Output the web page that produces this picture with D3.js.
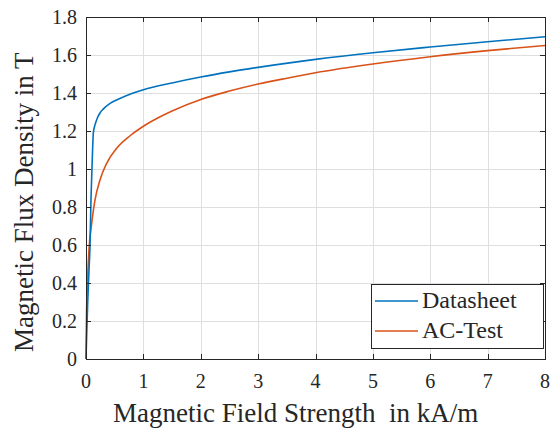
<!DOCTYPE html>
<html>
<head>
<meta charset="utf-8">
<script src="https://cdn.jsdelivr.net/npm/d3@7"></script>
<style>
  html, body { margin: 0; padding: 0; background: #fff; }
  svg { display: block; }
</style>
</head>
<body>
<svg id="chart" width="556" height="430"></svg>
<script>
// B-H curves: field strength H in kA/m, flux density B in T
const datasheetH = [0, 0.012, 0.03, 0.05, 0.07, 0.087, 0.105, 0.128, 0.15, 0.17, 0.2, 0.244, 0.3, 0.42, 0.57, 0.8, 1.0, 1.5, 2, 2.5, 3, 4, 5, 6, 7, 8];
const datasheetB = [0, 0.13, 0.3, 0.45, 0.6, 0.84, 1.01, 1.19, 1.225, 1.245, 1.27, 1.295, 1.315, 1.345, 1.368, 1.397, 1.417, 1.453, 1.484, 1.511, 1.535, 1.577, 1.612, 1.642, 1.670, 1.696];

const acTestH = [0, 0.005, 0.023, 0.052, 0.099, 0.157, 0.244, 0.36, 0.535, 0.768, 1.0, 1.25, 1.5, 2, 2.5, 3, 3.5, 4, 5, 6, 7, 8];
const acTestB = [0, 0.15, 0.38, 0.574, 0.714, 0.837, 0.942, 1.03, 1.109, 1.175, 1.225, 1.268, 1.305, 1.366, 1.41, 1.447, 1.478, 1.507, 1.553, 1.591, 1.623, 1.650];

const xTicks = [0, 1, 2, 3, 4, 5, 6, 7, 8];
const yTicks = [0, 0.2, 0.4, 0.6, 0.8, 1, 1.2, 1.4, 1.6, 1.8];

const seriesNames = ["Datasheet", "AC-Test"];
const seriesColors = ["#0072BD", "#D95319"];

const FONT = "'Liberation Serif', 'Times New Roman', Times, 'DejaVu Serif', serif";
const plot = { left: 86, top: 17, right: 545, bottom: 359 };

const svg = d3.select("#chart");
const x = d3.scaleLinear().domain([0, 8]).range([plot.left, plot.right]);
const y = d3.scaleLinear().domain([0, 1.8]).range([plot.bottom, plot.top]);

// grid
const grid = svg.append("g").attr("stroke", "#dfdfdf").attr("stroke-width", 1);
xTicks.slice(1, -1).forEach(t => {
  grid.append("line").attr("x1", Math.round(x(t)) + 0.5).attr("x2", Math.round(x(t)) + 0.5)
    .attr("y1", plot.top).attr("y2", plot.bottom);
});
yTicks.slice(1, -1).forEach(t => {
  grid.append("line").attr("y1", Math.round(y(t)) + 0.5).attr("y2", Math.round(y(t)) + 0.5)
    .attr("x1", plot.left).attr("x2", plot.right);
});

// curves
const datasheet = datasheetH.map((h, i) => [h, datasheetB[i]]);
const acTest = acTestH.map((h, i) => [h, acTestB[i]]);

const lineSmooth = d3.line().x(d => x(d[0])).y(d => y(d[1])).curve(d3.curveMonotoneX);

svg.append("path").datum(acTest).attr("d", lineSmooth)
  .attr("fill", "none").attr("stroke", seriesColors[1]).attr("stroke-width", 1.6);
svg.append("path").datum(datasheet).attr("d", lineSmooth)
  .attr("fill", "none").attr("stroke", seriesColors[0]).attr("stroke-width", 1.6)
  .attr("stroke-linejoin", "round");

// axes (box with inward ticks on all four sides)
const tickLen = 5;
const axisG = svg.append("g").attr("stroke", "#262626").attr("stroke-width", 1).attr("fill", "none");
axisG.append("rect")
  .attr("x", plot.left + 0.5).attr("y", plot.top + 0.5)
  .attr("width", plot.right - plot.left).attr("height", plot.bottom - plot.top);

xTicks.forEach(t => {
  const px = Math.round(x(t)) + 0.5;
  axisG.append("line").attr("x1", px).attr("x2", px).attr("y1", plot.bottom).attr("y2", plot.bottom - tickLen);
  axisG.append("line").attr("x1", px).attr("x2", px).attr("y1", plot.top).attr("y2", plot.top + tickLen);
});
yTicks.forEach(t => {
  const py = Math.round(y(t)) + 0.5;
  axisG.append("line").attr("y1", py).attr("y2", py).attr("x1", plot.left).attr("x2", plot.left + tickLen);
  axisG.append("line").attr("y1", py).attr("y2", py).attr("x1", plot.right).attr("x2", plot.right - tickLen);
});

// tick labels
const tickFont = 20;
svg.append("g").selectAll("text").data(xTicks).join("text")
  .attr("x", d => x(d)).attr("y", 388)
  .attr("text-anchor", "middle").attr("font-size", tickFont)
  .attr("font-family", FONT).attr("fill", "#262626")
  .text(d => d3.format("~g")(d));

svg.append("g").selectAll("text").data(yTicks).join("text")
  .attr("x", 77).attr("y", d => y(d) + 7)
  .attr("text-anchor", "end").attr("font-size", tickFont)
  .attr("font-family", FONT).attr("fill", "#262626")
  .text(d => d3.format("~g")(d));

// axis labels
svg.append("text")
  .attr("x", 113).attr("y", 422)
  .attr("font-size", 27).attr("font-family", FONT).attr("fill", "#262626")
  .attr("xml:space", "preserve")
  .style("white-space", "pre")
  .text("Magnetic Field Strength  in kA/m");

svg.append("text")
  .attr("transform", "translate(33,352) rotate(-90)")
  .attr("font-size", 27).attr("font-family", FONT).attr("fill", "#262626")
  .text("Magnetic Flux Density in T");

// legend
const legend = svg.append("g");
legend.append("rect")
  .attr("x", 371.5).attr("y", 284.5).attr("width", 172).attr("height", 64)
  .attr("fill", "#fff").attr("stroke", "#262626").attr("stroke-width", 1);
seriesNames.forEach((name, i) => {
  const ly = 301 + i * 30;
  legend.append("line").attr("x1", 375).attr("x2", 418).attr("y1", ly).attr("y2", ly)
    .attr("stroke", seriesColors[i]).attr("stroke-width", 1.6);
  legend.append("text").attr("x", 422).attr("y", ly + 7)
    .attr("font-size", 24).attr("font-family", FONT).attr("fill", "#262626")
    .text(name);
});
</script>
</body>
</html>
